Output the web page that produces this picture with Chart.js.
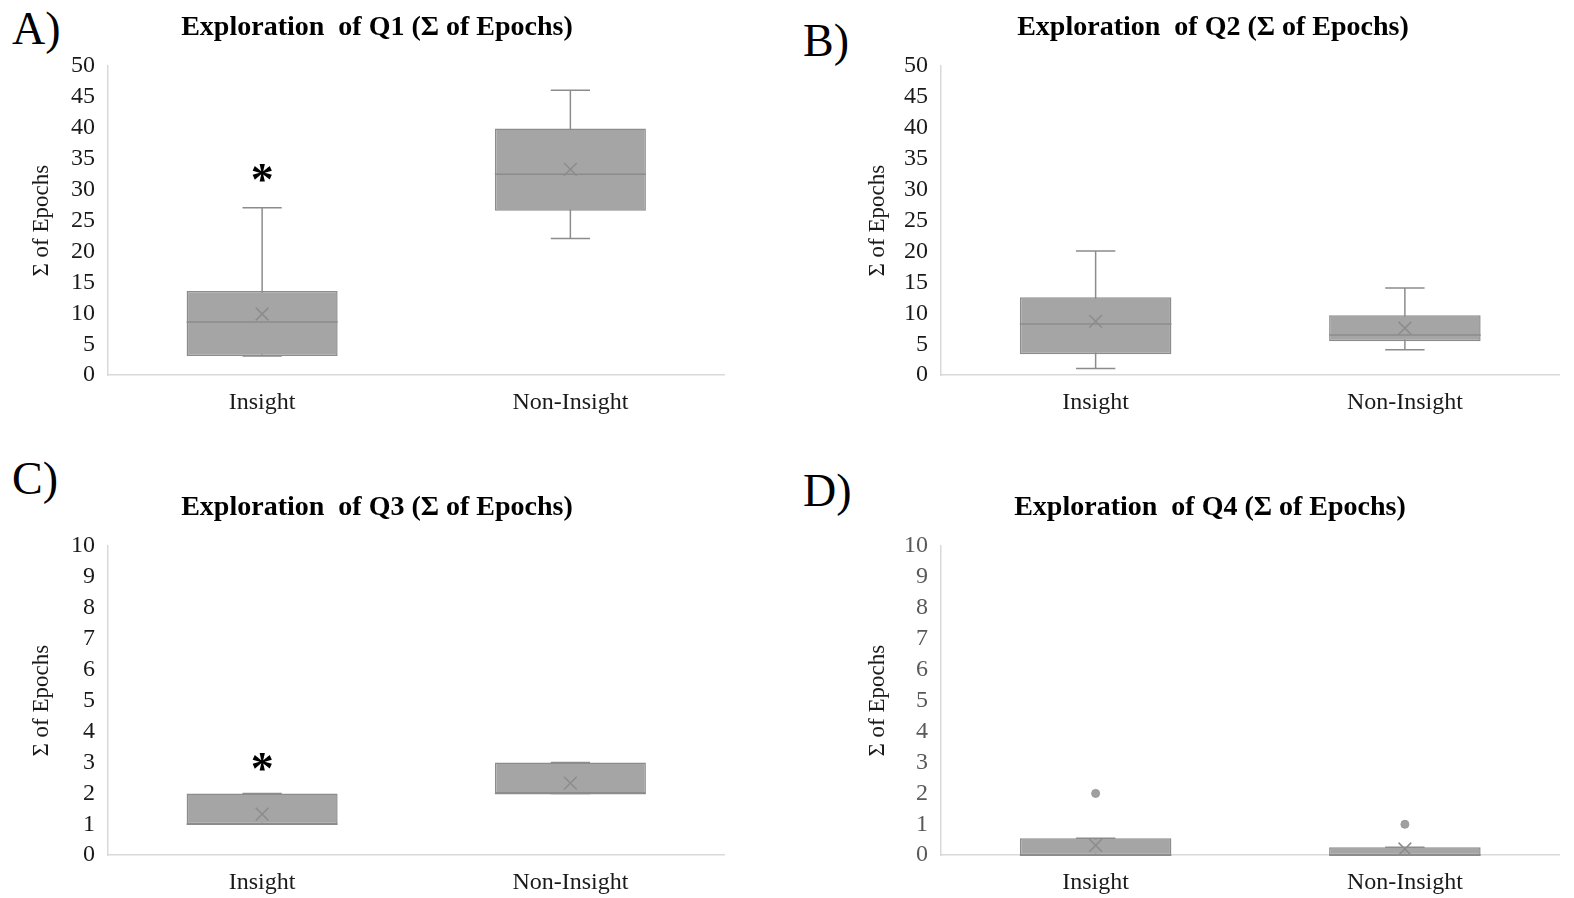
<!DOCTYPE html>
<html><head><meta charset="utf-8">
<script src="https://cdn.jsdelivr.net/npm/chart.js@4.4.1/dist/chart.umd.min.js"></script>
<style>
body{margin:0;background:#fff;width:1574px;height:898px;position:relative;overflow:hidden;font-family:"Liberation Serif","Times New Roman",serif}
.pl{position:absolute;font-size:46px;line-height:1;color:#000}
canvas{position:absolute}
</style></head><body>
<div class="pl" style="left:12px;top:6px">A)</div>
<div class="pl" style="left:803px;top:18px">B)</div>
<div class="pl" style="left:12px;top:456px">C)</div>
<div class="pl" style="left:803px;top:468px">D)</div>
<canvas id="cA" width="716" height="440" style="left:19px;top:0px"></canvas>
<canvas id="cB" width="714" height="440" style="left:856px;top:0px"></canvas>
<canvas id="cC" width="716" height="430" style="left:19px;top:480px"></canvas>
<canvas id="cD" width="720" height="430" style="left:850px;top:480px"></canvas>
<script>
const categories = ['Insight', 'Non-Insight'];

// Q1
const q1Min = [3.1, 22.1];
const q1Q1 = [3.1, 26.6];
const q1Median = [8.6, 32.5];
const q1Q3 = [13.6, 39.9];
const q1Max = [27.1, 46.1];
const q1Mean = [9.9, 33.3];
const q1Outlier = [null, null];
const q1Star = [33.1, null];

// Q2
const q2Min = [1.1, 4.1];
const q2Q1 = [3.4, 5.5];
const q2Median = [8.3, 6.5];
const q2Q3 = [12.6, 9.7];
const q2Max = [20.1, 14.1];
const q2Mean = [8.7, 7.6];
const q2Outlier = [null, null];
const q2Star = [null, null];

// Q3
const q3Min = [1, 2];
const q3Q1 = [1, 2];
const q3Median = [1, 2];
const q3Q3 = [2, 3];
const q3Max = [2, 3];
const q3Mean = [1.33, 2.33];
const q3Outlier = [null, null];
const q3Star = [3.1, null];

// Q4
const q4Min = [0, 0];
const q4Q1 = [0, 0];
const q4Median = [0, 0];
const q4Q3 = [0.55, 0.26];
const q4Max = [0.55, 0.26];
const q4Mean = [0.32, 0.2];
const q4Outlier = [2, 1];
const q4Star = [null, null];

// y axis ticks [min, max, step]
const yRange50 = [0, 50, 5];
const yRange10 = [0, 10, 1];

const FONT = '"Liberation Serif", "Times New Roman", serif';
const BOX_FILL = '#a5a5a5';
const LINE_COL = '#8c8c8c';

function makePanel(id, title, mn, q1, med, q3, mx, mean, outl, star, yr, yTickColor, axTitlePad, yWidth, padBottom) {
  const extras = {
    id: 'boxExtras_' + id,
    beforeDatasetsDraw(chart) {
      const {ctx, scales: {x, y}} = chart;
      const meta = chart.getDatasetMeta(0);
      ctx.save();
      ctx.strokeStyle = LINE_COL; ctx.lineWidth = 1.5;
      mn.forEach((v, i) => {
        const cx = x.getPixelForValue(i);
        const y0 = y.getPixelForValue(v), y1 = y.getPixelForValue(mx[i]);
        const cap = meta.data[i].width * 0.13;
        ctx.beginPath();
        ctx.moveTo(cx, y0); ctx.lineTo(cx, y1);
        ctx.moveTo(cx - cap, y0); ctx.lineTo(cx + cap, y0);
        ctx.moveTo(cx - cap, y1); ctx.lineTo(cx + cap, y1);
        ctx.stroke();
      });
      ctx.restore();
    },
    afterDatasetDraw(chart, args) {
      if (args.index !== 0) return;
      const {ctx, scales: {y}} = chart;
      const meta = chart.getDatasetMeta(0);
      ctx.save();
      ctx.strokeStyle = LINE_COL; ctx.lineWidth = 1.5;
      med.forEach((v, i) => {
        const el = meta.data[i];
        const yy = y.getPixelForValue(v);
        ctx.beginPath();
        ctx.moveTo(el.x - el.width / 2, yy); ctx.lineTo(el.x + el.width / 2, yy);
        ctx.stroke();
      });
      ctx.restore();
    },
    afterDraw(chart) {
      const {ctx, scales: {x, y}} = chart;
      ctx.save();
      ctx.fillStyle = '#000';
      ctx.font = 'bold 46px ' + FONT;
      ctx.textAlign = 'center'; ctx.textBaseline = 'middle';
      star.forEach((v, i) => {
        if (v === null) return;
        ctx.fillText('*', x.getPixelForValue(i), y.getPixelForValue(v) + 13);
      });
      ctx.restore();
    }
  };
  new Chart(document.getElementById(id), {
    type: 'bar',
    data: {
      labels: categories,
      datasets: [
        {
          type: 'bar', order: 3,
          data: q1.map((v, i) => [v, q3[i]]),
          backgroundColor: BOX_FILL, borderColor: LINE_COL, borderWidth: 1.5,
          borderSkipped: false, barPercentage: 0.49, categoryPercentage: 1
        },
        {
          type: 'line', order: 1, showLine: false,
          data: mean,
          pointStyle: 'crossRot', pointRadius: 9, pointBorderWidth: 1.5,
          pointBorderColor: LINE_COL, pointBackgroundColor: LINE_COL
        },
        {
          type: 'line', order: 2, showLine: false,
          data: outl,
          pointStyle: 'circle', pointRadius: 4, pointBorderWidth: 1,
          pointBorderColor: '#9a9a9a', pointBackgroundColor: '#a0a0a0'
        }
      ]
    },
    options: {
      responsive: false, animation: false,
      layout: { padding: { left: 0, right: 0, top: 0, bottom: padBottom } },
      plugins: {
        legend: { display: false }, tooltip: { enabled: false },
        title: {
          display: true, text: title, color: '#000',
          font: { family: FONT, size: 28, weight: 'bold', lineHeight: 1.2 },
          padding: { top: 11, bottom: 21.5 }
        }
      },
      scales: {
        x: {
          grid: { display: false, drawTicks: false },
          border: { display: true, color: '#d9d9d9', width: 1.5 },
          ticks: { color: '#1a1a1a', padding: 13, font: { family: FONT, size: 24 } }
        },
        y: {
          min: yr[0], max: yr[1],
          afterFit(s) { s.width = yWidth; },
          grid: { display: false, drawTicks: false },
          border: { display: true, color: '#d9d9d9', width: 1.5 },
          ticks: { stepSize: yr[2], autoSkip: false, color: yTickColor, padding: 13, font: { family: FONT, size: 24 } },
          title: { display: true, text: 'Σ of Epochs', color: '#1a1a1a',
                   font: { family: FONT, size: 23 }, padding: { top: axTitlePad, bottom: 0 } }
        }
      }
    },
    plugins: [extras]
  });
}

makePanel('cA', 'Exploration  of Q1 (Σ of Epochs)', q1Min, q1Q1, q1Median, q1Q3, q1Max, q1Mean, q1Outlier, q1Star, yRange50, '#1a1a1a', 9, 89, 10);
makePanel('cB', 'Exploration  of Q2 (Σ of Epochs)', q2Min, q2Q1, q2Median, q2Q3, q2Max, q2Mean, q2Outlier, q2Star, yRange50, '#1a1a1a', 8, 85, 10);
makePanel('cC', 'Exploration  of Q3 (Σ of Epochs)', q3Min, q3Q1, q3Median, q3Q3, q3Max, q3Mean, q3Outlier, q3Star, yRange10, '#1a1a1a', 9, 89, 0);
makePanel('cD', 'Exploration  of Q4 (Σ of Epochs)', q4Min, q4Q1, q4Median, q4Q3, q4Max, q4Mean, q4Outlier, q4Star, yRange10, '#595959', 14, 91, 0);
</script>
</body></html>
